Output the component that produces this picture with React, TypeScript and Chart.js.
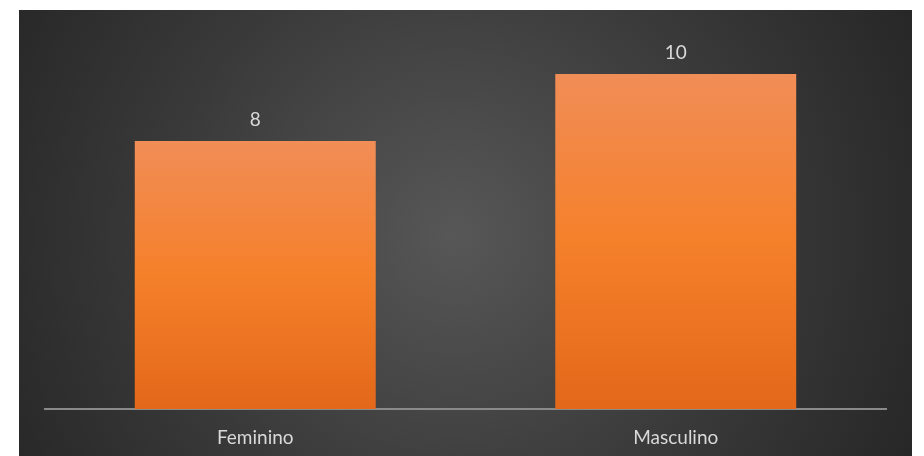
import React, { useEffect, useRef } from "react";
import { Chart, registerables } from "chart.js";

Chart.register(...registerables);

const categories = ["Feminino", "Masculino"];
const values = [8, 10];
const yMax = 12;

const bgPlugin = {
  id: "bgPlugin",
  beforeDraw(chart: any) {
    const ctx = chart.ctx;
    ctx.save();
    const g = ctx.createRadialGradient(455, 235, 0, 455, 235, 520);
    g.addColorStop(0, "#575757");
    g.addColorStop(0.55, "#3a3a3a");
    g.addColorStop(1, "#262626");
    ctx.fillStyle = g;
    ctx.fillRect(19, 10, 893, 446);
    ctx.restore();
  },
};

const labelPlugin = {
  id: "labelPlugin",
  afterDatasetsDraw(chart: any) {
    const ctx = chart.ctx;
    const meta = chart.getDatasetMeta(0);
    ctx.save();
    ctx.fillStyle = "#d9d9d9";
    ctx.font = "19px Lato, 'Open Sans', sans-serif";
    ctx.textAlign = "center";
    ctx.textBaseline = "middle";
    meta.data.forEach((el: any, i: number) => {
      ctx.fillText(String(values[i]), el.x, el.y - 21);
    });
    ctx.restore();
  },
};

export default function App() {
  const ref = useRef<HTMLCanvasElement | null>(null);
  useEffect(() => {
    if (!ref.current) return;
    const chart = new Chart(ref.current, {
      type: "bar",
      data: {
        labels: categories,
        datasets: [
          {
            data: values,
            barPercentage: 0.573,
            categoryPercentage: 1,
            backgroundColor: (c: any) => {
              const ch = c.chart;
              if (!ch.chartArea || !ch.scales || !ch.scales.y) return "#f47f2a";
              const top = ch.scales.y.getPixelForValue(c.raw);
              const bottom = ch.scales.y.getPixelForValue(0);
              const g = ch.ctx.createLinearGradient(0, top, 0, bottom);
              g.addColorStop(0, "#f18d57");
              g.addColorStop(0.5, "#f5802a");
              g.addColorStop(1, "#e3681a");
              return g;
            },
            borderWidth: 0,
          },
        ],
      },
      options: {
        responsive: false,
        animation: false,
        layout: { padding: { left: 45, right: 38, top: 7, bottom: 0 } },
        plugins: { legend: { display: false }, tooltip: { enabled: false } },
        scales: {
          x: {
            grid: { display: false, drawTicks: false },
            border: { display: true, color: "#8a8a8a", width: 2 },
            ticks: {
              color: "#d9d9d9",
              font: { size: 19, family: "Lato, 'Open Sans', sans-serif" },
              padding: 17,
            },
            afterFit: (s: any) => {
              s.height = 47;
            },
          },
          y: { display: false, min: 0, max: yMax },
        },
      },
      plugins: [bgPlugin, labelPlugin],
    });
    return () => chart.destroy();
  }, []);
  return (
    <div style={{ position: "fixed", left: 0, top: 0, width: 924, height: 456, background: "#fff" }}>
      <canvas ref={ref} width={924} height={456} style={{ width: 924, height: 456, display: "block" }} />
    </div>
  );
}
